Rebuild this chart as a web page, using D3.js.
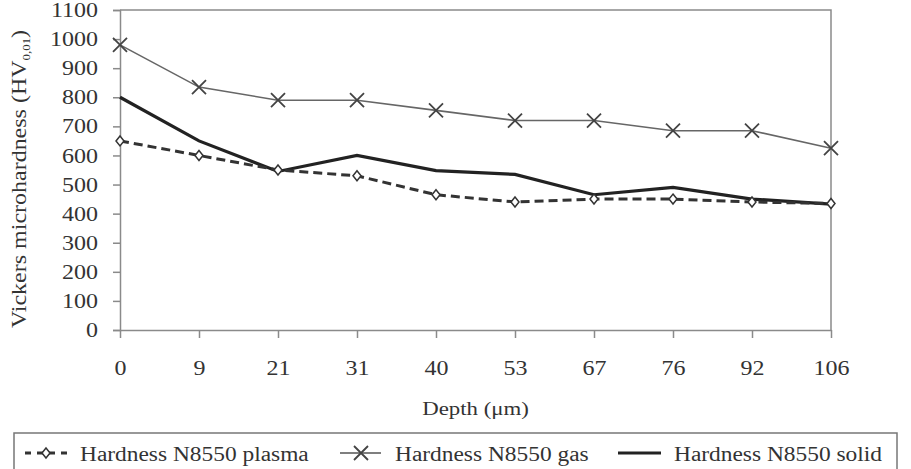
<!DOCTYPE html>
<html>
<head>
<meta charset="utf-8">
<script src="https://cdn.jsdelivr.net/npm/d3@7"></script>
<style>
  body { margin: 0; background: #fff; }
  text { font-family: "Liberation Serif", "DejaVu Serif", serif; fill: #333; }
</style>
</head>
<body>
<svg id="chart" width="911" height="469"></svg>
<script>
// depth categories (µm)
const depths = ["0", "9", "21", "31", "40", "53", "67", "76", "92", "106"];
// series values, HV0.01
const plasmaValues = [650, 600, 550, 530, 465, 440, 450, 450, 440, 435];
const gasValues = [980, 835, 790, 790, 755, 720, 720, 685, 685, 625];
const solidValues = [800, 650, 545, 600, 548, 535, 465, 490, 450, 433];
const yTicks = [0, 100, 200, 300, 400, 500, 600, 700, 800, 900, 1000, 1100];
const legendLabels = ["Hardness N8550 plasma", "Hardness N8550 gas", "Hardness N8550 solid"];

const svg = d3.select("#chart");
const plotLeft = 120, plotRight = 831, plotTop = 10, plotBottom = 330;
const stretch = 1.17; // the source type is a bit wide

// widen a text node horizontally
function widen(sel) {
  sel.each(function() {
    const len = this.getComputedTextLength();
    d3.select(this).attr("textLength", len * stretch).attr("lengthAdjust", "spacingAndGlyphs");
  });
}

const x = d3.scalePoint().domain(depths).range([plotLeft, plotRight]);
const y = d3.scaleLinear().domain([0, 1100]).range([plotBottom, plotTop]);

// plot frame (top + right)
svg.append("path")
  .attr("d", `M${plotLeft},${plotTop}H${plotRight}V${plotBottom}`)
  .attr("fill", "none").attr("stroke", "#8a8a8a").attr("stroke-width", 1.5);

// y axis
const yAxis = svg.append("g")
  .attr("transform", `translate(${plotLeft},0)`)
  .call(d3.axisLeft(y).tickValues(yTicks).tickFormat(d3.format("d")).tickSize(7).tickPadding(15));
yAxis.select(".domain").attr("stroke", "#8a8a8a").attr("stroke-width", 1.5);
yAxis.selectAll(".tick line").attr("stroke", "#8a8a8a").attr("stroke-width", 1.5);
yAxis.selectAll(".tick text")
  .style("font-family", "Liberation Serif, serif").style("font-size", "20.5px").attr("fill", "#333")
  .call(widen);

// x axis
const xAxis = svg.append("g")
  .attr("transform", `translate(0,${plotBottom})`)
  .call(d3.axisBottom(x).tickSize(8).tickPadding(22).tickSizeOuter(0));
xAxis.select(".domain").attr("stroke", "#8a8a8a").attr("stroke-width", 1.5);
xAxis.selectAll(".tick line").attr("stroke", "#8a8a8a").attr("stroke-width", 1.5);
xAxis.selectAll(".tick text")
  .style("font-family", "Liberation Serif, serif").style("font-size", "20.5px").attr("fill", "#333")
  .call(widen);

// axis titles
svg.append("text")
  .attr("x", (plotLeft + plotRight) / 2).attr("y", 415)
  .attr("text-anchor", "middle").style("font-size", "19.5px")
  .text("Depth (μm)").call(widen);

const yTitle = svg.append("text")
  .attr("transform", "translate(26,179) rotate(-90)")
  .attr("text-anchor", "middle").style("font-size", "20.5px");
yTitle.append("tspan").text("Vickers microhardness (HV");
yTitle.append("tspan").attr("dy", 4).style("font-size", "11px").text("0,01");
yTitle.append("tspan").attr("dy", -4).text(")");
yTitle.call(widen);

const line = d3.line().x((d, i) => x(depths[i])).y(d => y(d));

// gas
svg.append("path").datum(gasValues).attr("d", line)
  .attr("fill", "none").attr("stroke", "#666").attr("stroke-width", 1.6);
// solid
svg.append("path").datum(solidValues).attr("d", line)
  .attr("fill", "none").attr("stroke", "#222").attr("stroke-width", 3.2);
// plasma dashed
svg.append("path").datum(plasmaValues).attr("d", line)
  .attr("fill", "none").attr("stroke", "#333").attr("stroke-width", 3)
  .attr("stroke-dasharray", "9,5");

const crossPath = "M-7,-7L7,7M-7,7L7,-7";
const diamondPath = "M0,-5L4,0L0,5L-4,0Z";

svg.append("g").selectAll("path").data(gasValues).join("path")
  .attr("transform", (d, i) => `translate(${x(depths[i])},${y(d)})`)
  .attr("d", crossPath).attr("stroke", "#444").attr("stroke-width", 1.8).attr("fill", "none");

svg.append("g").selectAll("path").data(plasmaValues).join("path")
  .attr("transform", (d, i) => `translate(${x(depths[i])},${y(d)})`)
  .attr("d", diamondPath).attr("stroke", "#333").attr("stroke-width", 1.5).attr("fill", "#fff");

// legend
const lg = svg.append("g");
lg.append("rect").attr("x", 14).attr("y", 433).attr("width", 883).attr("height", 45)
  .attr("fill", "none").attr("stroke", "#777").attr("stroke-width", 1.5);

const legY = 453;
lg.append("line").attr("x1", 25).attr("x2", 68).attr("y1", legY).attr("y2", legY)
  .attr("stroke", "#333").attr("stroke-width", 3).attr("stroke-dasharray", "6,6").attr("stroke-dashoffset", 0);
lg.append("path").attr("transform", `translate(46,${legY})`).attr("d", diamondPath)
  .attr("stroke", "#333").attr("stroke-width", 1.5).attr("fill", "#fff");
lg.append("line").attr("x1", 340).attr("x2", 381).attr("y1", legY).attr("y2", legY)
  .attr("stroke", "#555").attr("stroke-width", 1.6);
lg.append("path").attr("transform", `translate(361,${legY})`).attr("d", crossPath)
  .attr("stroke", "#444").attr("stroke-width", 1.8);
lg.append("line").attr("x1", 618).attr("x2", 661).attr("y1", legY).attr("y2", legY)
  .attr("stroke", "#222").attr("stroke-width", 3.2);

const legX = [80, 395, 674];
lg.selectAll("text.leg").data(legendLabels).join("text")
  .attr("class", "leg")
  .attr("x", (d, i) => legX[i]).attr("y", 461)
  .style("font-size", "20px")
  .text(d => d).call(widen);
</script>
</body>
</html>
